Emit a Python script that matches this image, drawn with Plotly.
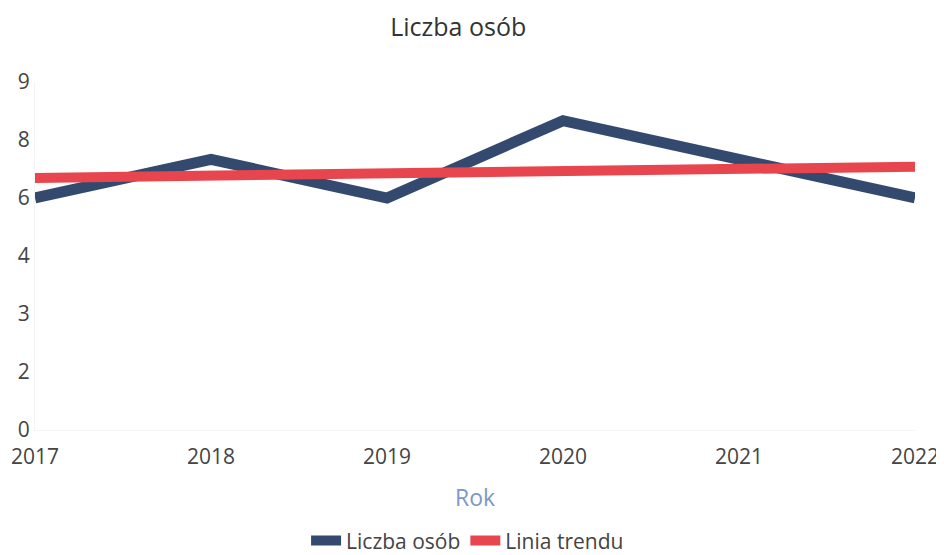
import plotly.graph_objects as go

# Data
years = [2017, 2018, 2019, 2020, 2021, 2022]
people = [6, 7, 6, 8, 7, 6]
trend = [6.52, 6.58, 6.64, 6.70, 6.75, 6.81]

# Y ticks every 1.5, shown rounded as in the original
y_tick_vals = [0, 1.5, 3, 4.5, 6, 7.5, 9]
y_tick_text = ["0", "2", "3", "4", "6", "8", "9"]

FONT = "Open Sans"
TEXT = "#444444"

fig = go.Figure()

fig.add_trace(
    go.Scatter(
        x=years,
        y=people,
        mode="lines",
        name="Liczba osób",
        line=dict(color="#34496e", width=11),
    )
)

fig.add_trace(
    go.Scatter(
        x=years,
        y=trend,
        mode="lines",
        name="Linia trendu",
        line=dict(color="#e8464f", width=10),
    )
)

# the page body has an 8px margin, so the figure is a bit smaller than the window
fig.update_layout(
    width=936,
    height=547,
    margin=dict(l=27, r=29, t=74, b=125),
    paper_bgcolor="white",
    plot_bgcolor="white",
    font=dict(family=FONT, size=21, color=TEXT),
    title=dict(
        text="Liczba osób",
        x=0.481,
        xanchor="center",
        y=0.965,
        yanchor="middle",
        font=dict(family=FONT, size=25, color="#333333"),
    ),
    showlegend=True,
    legend=dict(
        orientation="h",
        xref="container",
        yref="container",
        x=0.491,
        xanchor="center",
        y=0.026,
        yanchor="middle",
        font=dict(size=21, color=TEXT),
        itemwidth=30,
    ),
)

fig.update_xaxes(
    range=[2017, 2022],
    tickvals=years,
    ticktext=[str(y) for y in years],
    showgrid=False,
    zeroline=False,
    showline=True,
    linecolor="#f4f4f4",
    ticks="",
    automargin=False,
    ticklabelstandoff=8,
    tickfont=dict(size=21, color=TEXT),
    title=dict(text="Rok", font=dict(size=23, color="#7b98c8"), standoff=20),
)

fig.update_yaxes(
    range=[0, 9],
    tickvals=y_tick_vals,
    ticktext=y_tick_text,
    showgrid=False,
    zeroline=False,
    showline=True,
    linecolor="#f4f4f4",
    ticks="",
    automargin=False,
    tickfont=dict(size=21, color=TEXT),
)

fig.write_html("out.html")
